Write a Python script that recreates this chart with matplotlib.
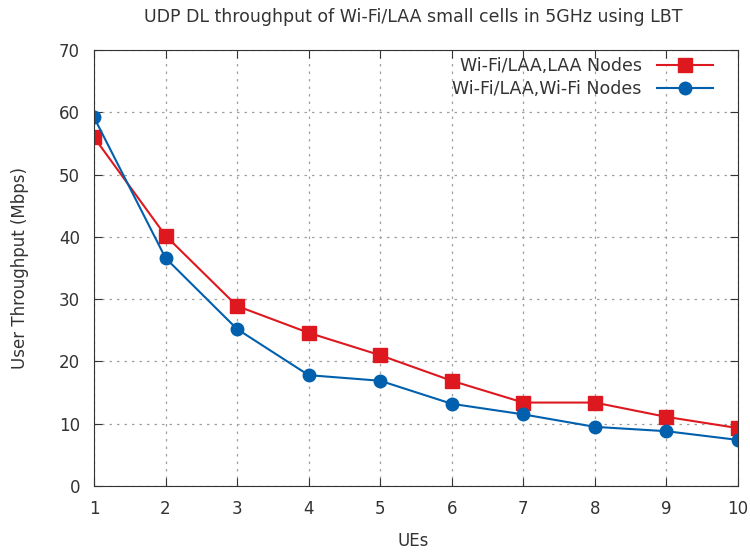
import matplotlib.pyplot as plt

plt.rcParams['font.family'] = ['DejaVu Sans']

# Data
ues = [1, 2, 3, 4, 5, 6, 7, 8, 9, 10]
laa_nodes = [56.0, 40.2, 28.9, 24.6, 21.0, 16.9, 13.4, 13.4, 11.1, 9.3]
wifi_nodes = [59.2, 36.6, 25.2, 17.8, 16.9, 13.2, 11.5, 9.5, 8.8, 7.4]

txt = '#333333'

fig = plt.figure(figsize=(7.5, 5.54), dpi=100)
ax = fig.add_axes([0.1253, 0.1227, 0.8587, 0.787])

ax.plot(ues, laa_nodes, color='#dd181f', lw=1.5, marker='s', ms=10,
        label='Wi-Fi/LAA,LAA Nodes')
ax.plot(ues, wifi_nodes, color='#0060ad', lw=1.5, marker='o', ms=9,
        label='Wi-Fi/LAA,Wi-Fi Nodes')

ax.set_xlim(1, 10)
ax.set_ylim(0, 70)
ax.set_xticks(ues)
ax.set_yticks(range(0, 71, 10))
ax.grid(True, color='#a0a0a0', linestyle=(0, (2, 4)), lw=0.9)
ax.tick_params(direction='in', top=True, right=True, length=6,
               labelsize=12, colors=txt, pad=10)
for s in ax.spines.values():
    s.set_color(txt)

fig.text(0.551, 1 - 17 / 554, 'UDP DL throughput of Wi-Fi/LAA small cells in 5GHz using LBT',
         fontsize=12.5, color=txt, ha='center', va='center')
fig.text(413 / 750, 1 - 541 / 554, 'UEs', fontsize=12, color=txt,
         ha='center', va='center')
fig.text(20 / 750, 0.5 * (0.1227 + 0.9097), 'User Throughput (Mbps)', fontsize=12,
         color=txt, ha='center', va='center', rotation=90)

leg = ax.legend(loc='upper right', bbox_to_anchor=(0.972, 1.0), frameon=False,
                markerfirst=False, fontsize=12.5, handlelength=3.2,
                handletextpad=0.9, borderaxespad=0, labelspacing=0.3)
for t in leg.get_texts():
    t.set_color(txt)

fig.savefig('out.png', dpi=100)
